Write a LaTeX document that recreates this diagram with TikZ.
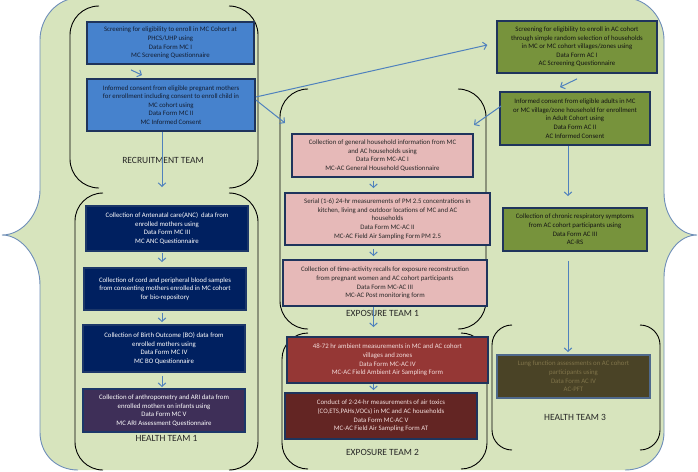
\documentclass[tikz,border=0pt]{standalone}
\usepackage{fontspec}
\setmainfont{Carlito}
\usetikzlibrary{arrows.meta}
\definecolor{bgfill}{RGB}{215,228,189}
\definecolor{bgline}{RGB}{110,142,185}
\definecolor{arrowblue}{RGB}{79,129,189}
\definecolor{mcblue}{RGB}{70,130,205}
\definecolor{darkborder}{RGB}{31,52,92}
\definecolor{navyfill}{RGB}{0,32,96}
\definecolor{navyborder}{RGB}{28,55,105}
\definecolor{arifill}{RGB}{62,47,88}
\definecolor{pinkfill}{RGB}{230,185,184}
\definecolor{ambfill}{RGB}{149,55,53}
\definecolor{toxfill}{RGB}{99,37,35}
\definecolor{redtext}{RGB}{242,220,219}
\definecolor{olivefill}{RGB}{119,147,60}
\definecolor{pftfill}{RGB}{74,67,38}
\definecolor{pftborder}{RGB}{79,105,140}
\definecolor{pfttext}{RGB}{128,116,74}
\definecolor{labeltext}{RGB}{38,38,38}
\tikzset{
  boxbase/.style={draw=darkborder, line width=1.8pt, inner sep=1pt, align=center,
    font=\fontsize{6.8}{8.6}\selectfont},
  mcbox/.style={boxbase, fill=mcblue, text={rgb,255:red,20;green,30;blue,50}},
  navybox/.style={boxbase, fill=navyfill, draw=navyborder, text=white},
  aribox/.style={boxbase, fill=arifill, draw=navyborder, text=white},
  pinkbox/.style={boxbase, fill=pinkfill, text={rgb,255:red,40;green,40;blue,40}},
  ambbox/.style={boxbase, fill=ambfill, text=redtext},
  toxbox/.style={boxbase, fill=toxfill, text=redtext},
  olivebox/.style={boxbase, fill=olivefill, text={rgb,255:red,20;green,20;blue,20}},
  pftbox/.style={boxbase, fill=pftfill, draw=pftborder, text=pfttext},
  teamlabel/.style={font=\fontsize{9.5}{11}\selectfont, text=labeltext, inner sep=0pt},
  arr/.style={draw=arrowblue, line width=1pt, -{Straight Barb[length=3.5pt,width=7.5pt]}},
  brk/.style={draw=black, line width=0.9pt},
}
\begin{document}
\begin{tikzpicture}[x=1pt,y=-1pt]
\useasboundingbox (0,0) rectangle (698,471);
% background double-brace shape
\fill[bgfill] (78,-2) -- (625,-2) .. controls (647,-2) and (664,18) .. (664,40) -- (664,193)
  .. controls (664,216) and (679,235) .. (697,235)
  .. controls (679,235) and (664,254) .. (664,277) -- (664,432)
  .. controls (664,455) and (647,470) .. (625,470) -- (78,470)
  .. controls (57,470) and (40,455) .. (40,432) -- (40,285)
  .. controls (40,260) and (23,235) .. (2,235)
  .. controls (23,235) and (40,213) .. (40,190) -- (40,40)
  .. controls (40,18) and (57,-2) .. (78,-2) -- cycle;
\draw[bgline, line width=0.9pt] (78,-2) .. controls (57,-2) and (40,18) .. (40,40) -- (40,190)
  .. controls (40,213) and (23,235) .. (2,235)
  .. controls (23,235) and (40,260) .. (40,285) -- (40,432)
  .. controls (40,455) and (57,470) .. (78,470);
\draw[bgline, line width=0.9pt] (625,-2) .. controls (647,-2) and (664,18) .. (664,40) -- (664,193)
  .. controls (664,216) and (679,235) .. (697,235)
  .. controls (679,235) and (664,254) .. (664,277) -- (664,432)
  .. controls (664,455) and (647,470) .. (625,470);
% team brackets
\draw[brk, rounded corners=29pt] (99,6) -- (70,6) -- (70,188) -- (99,188);
\draw[brk, rounded corners=29pt] (229,6) -- (258,6) -- (258,188) -- (229,188);
\draw[brk, rounded corners=28pt] (103,193) -- (75,193) -- (75,470) -- (103,470);
\draw[brk, rounded corners=29pt] (229,193) -- (258,193) -- (258,470) -- (229,470);
\draw[brk, rounded corners=28pt] (308,89) -- (280,89) -- (280,329) -- (308,329);
\draw[brk, rounded corners=28pt] (458,89) -- (486,89) -- (486,329) -- (458,329);
\draw[brk, rounded corners=26pt] (308,333) -- (282,333) -- (282,469) -- (308,469);
\draw[brk, rounded corners=26pt] (461,333) -- (487,333) -- (487,469) -- (461,469);
\draw[brk, rounded corners=20pt] (512,325) -- (492,325) -- (492,450) -- (512,450);
\draw[brk, rounded corners=20pt] (640,325) -- (660,325) -- (660,450) -- (640,450);
% recruitment boxes
\node[mcbox, minimum width=167pt, minimum height=42pt] (mc1) at (170.5,43)
  {Screening for eligibility to enroll in MC Cohort at\\PHCS/UHP using\\Data Form MC I\\MC Screening Questionnaire};
\node[mcbox, minimum width=168pt, minimum height=52pt] (mc2) at (171,105)
  {Informed consent from eligible pregnant mothers\\for enrollment including consent to enroll child in\\MC cohort using\\Data Form MC II\\MC Informed Consent};
% health team 1
\node[navybox, minimum width=162pt, minimum height=45pt] (anc) at (167,228.5)
  {Collection of Antenatal care(ANC)~~data from\\enrolled mothers using\\Data Form MC III\\MC ANC Questionnaire};
\node[navybox, minimum width=162pt, minimum height=42pt] (blood) at (165,289)
  {Collection of cord and peripheral blood samples\\from consenting mothers enrolled in MC cohort\\for bio-repository};
\node[navybox, minimum width=162pt, minimum height=47pt] (bo) at (164,348.5)
  {Collection of Birth Outcome (BO) data from\\enrolled mothers using\\Data Form MC IV\\MC BO Questionnaire};
\node[aribox, minimum width=162pt, minimum height=43pt] (ari) at (164,410.5)
  {Collection of anthropometry and ARI data from\\enrolled mothers on infants using\\Data Form MC V\\MC ARI Assessment Questionnaire};
% exposure team 1
\node[pinkbox, minimum width=181pt, minimum height=43pt] (hh) at (382.5,155.5)
  {Collection of general household information from MC\\and AC households using\\Data Form MC-AC I\\MC-AC General Household Questionnaire};
\node[pinkbox, minimum width=205pt, minimum height=52pt] (pm) at (387.5,219)
  {Serial (1-6) 24-hr measurements of PM 2.5 concentrations in\\kitchen, living and outdoor locations of MC and AC\\households\\Data Form MC-AC II\\MC-AC Field Air Sampling Form PM 2.5};
\node[pinkbox, minimum width=204pt, minimum height=46pt] (ta) at (385,283)
  {Collection of time-activity recalls for exposure reconstruction\\from pregnant women and AC cohort participants\\Data Form MC-AC III\\MC-AC Post monitoring form};
% exposure team 2
\node[ambbox, minimum width=201pt, minimum height=46pt] (amb) at (387.5,360)
  {48-72 hr ambient measurements in MC and AC cohort\\villages and zones\\Data Form MC-AC IV\\MC-AC Field Ambient Air Sampling Form};
\node[toxbox, minimum width=192pt, minimum height=46pt] (tox) at (381,416)
  {Conduct of 2-24-hr measurements of air toxics\\(CO,ETS,PAHs,VOCs) in MC and AC households\\Data Form MC-AC V\\MC-AC Field Air Sampling Form AT};
% adult cohort column
\node[olivebox, minimum width=160pt, minimum height=52pt] (ac1) at (577,47)
  {Screening for eligibility to enroll in AC cohort\\through simple random selection of households\\in MC or MC cohort villages/zones using\\Data Form AC I\\AC Screening Questionnaire};
\node[olivebox, minimum width=150pt, minimum height=53pt] (ac2) at (575,118.5)
  {Informed consent from eligible adults in MC\\or MC village/zone household for enrollment\\in Adult Cohort using\\Data Form AC II\\AC Informed Consent};
\node[olivebox, minimum width=144pt, minimum height=43pt] (rs) at (575,229.5)
  {Collection of chronic respiratory symptoms\\from AC cohort participants using\\Data Form AC III\\AC-RS};
\node[pftbox, minimum width=153pt, minimum height=43pt] (pft) at (573.5,376.5)
  {Lung function assessments on AC cohort\\participants using\\Data Form AC IV\\AC-PFT};
% team labels
\node[teamlabel] (lrec) at (163,160) {RECRUITMENT TEAM};
\node[teamlabel] (lh1) at (166.5,438) {HEALTH TEAM 1};
\node[teamlabel] (le1) at (382.5,313) {EXPOSURE TEAM 1};
\node[teamlabel] (le2) at (382.5,452) {EXPOSURE TEAM 2};
\node[teamlabel] (lh3) at (575,417) {HEALTH TEAM 3};
% helper coordinates
\coordinate (colh) at (162,0);
\coordinate (cole) at (373.5,0);
\coordinate (colac) at (568,0);
\coordinate (h1top) at (162,187);
\coordinate (e1tl) at (285,123);
\coordinate (e1tr) at (474,125);
% connectors
\draw[arr] ([xshift=-39.5pt,yshift=-5pt]mc1.south) -- ([xshift=-29pt,yshift=3pt]mc2.north);
\draw[arr] (mc2.south -| h1top) -- (h1top);
\draw[arr, shorten <=1pt, shorten >=5pt] (anc.south -| colh) -- (blood.north -| colh);
\draw[arr, shorten <=2pt, shorten >=2pt] (blood.south -| colh) -- (bo.north -| colh);
\draw[arr, shorten <=3pt, shorten >=1pt] (bo.south -| colh) -- (ari.north -| colh);
\draw[arr, shorten >=9pt] ([yshift=8pt]mc2.east) -- ([yshift=4pt]ac1.west);
\draw[arr] ([yshift=5pt]mc2.east) -- (e1tl);
\draw[arr] ([yshift=-5pt]ac1.south) -- ([xshift=-15pt,yshift=4pt]ac2.north);
\draw[arr] ([xshift=2pt,yshift=12.5pt]ac2.west) -- (e1tr);
\draw[arr, shorten >=11pt] (ac2.south -| colac) -- (rs.north -| colac);
\draw[arr, shorten <=9pt, shorten >=2pt] (rs.south -| colac) -- (pft.north -| colac);
\draw[arr, shorten <=3pt, shorten >=4pt] (hh.south -| cole) -- (pm.north -| cole);
\draw[arr, shorten <=3pt, shorten >=3pt] (pm.south -| cole) -- (ta.north -| cole);
\draw[arr, shorten >=9pt] (ta.south -| cole) -- (amb.north -| cole);
\draw[arr, shorten >=2pt] (amb.south -| cole) -- (tox.north -| cole);
\end{tikzpicture}
\end{document}
